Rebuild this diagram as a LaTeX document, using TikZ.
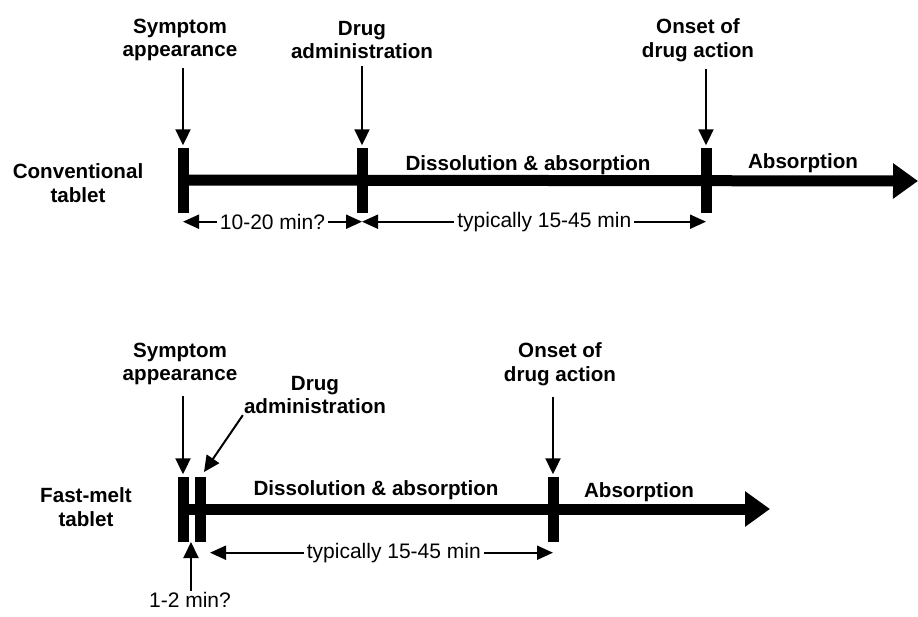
\documentclass[tikz,border=0pt]{standalone}
\usepackage{fontspec}
\setmainfont{Liberation Sans}
\usetikzlibrary{arrows.meta}

\tikzset{
  lab/.style={font=\fontsize{20.6}{23.5}\selectfont\bfseries, align=center, inner sep=1pt},
  txt/.style={font=\fontsize{21}{24}\selectfont, fill=white, inner sep=3pt},
  stage/.style={fill=black, inner sep=0pt, minimum width=11pt, minimum height=65pt},
  timeline/.style={line width=11pt, -{Triangle[length=25pt,width=34pt]}},
  pointer/.style={line width=2pt, -{Triangle[length=16pt,width=15pt]}, shorten <=6pt, shorten >=2pt},
  dimline/.style={line width=2pt, {Triangle[length=16pt,width=14pt]}-{Triangle[length=16pt,width=14pt]}},
}

\begin{document}
\begin{tikzpicture}[x=1pt, y=-1pt]
  \useasboundingbox (0, 0) rectangle (918, 616);
  % conventional tablet
  \node[lab] (conv) at (78, 183) {Conventional\\tablet};
  \node[stage] (sA) at (183, 180) {};
  \node[stage] (dA) at (362, 180) {};
  \node[stage] (oA) at (706, 180) {};
  \coordinate (eA) at (918, 181);
  \draw[timeline] (sA.center) -- (eA);
  \node[lab] (symA) at (180, 40) {Symptom\\appearance};
  \node[lab] (admA) at (362, 40) {Drug\\administration};
  \node[lab] (onsA) at (698, 40) {Onset of\\drug action};
  \node[lab, anchor=base] (disA) at (528, 170) {Dissolution \& absorption};
  \node[lab, anchor=base] (absA) at (803, 168) {Absorption};
  \draw[pointer] (symA.south -| sA) -- (sA.north);
  \draw[pointer] (admA.south -| dA) -- (dA.north);
  \draw[pointer] (onsA.south -| oA) -- (oA.north);
  \draw[dimline] ([yshift=-9pt]sA.south) -- node[txt] {10-20 min?} ([yshift=-9pt]dA.south);
  \draw[dimline] ([yshift=-9pt]dA.south) -- node[txt, pos=.53] {typically 15-45 min} ([yshift=-9pt]oA.south);
  % fast-melt tablet
  \begin{scope}[yshift=-329pt]
    \node[lab] (fast) at (86, 178) {Fast-melt\\tablet};
    \node[stage] (sB) at (183, 180) {};
    \node[stage] (dB) at (200, 180) {};
    \node[stage] (oB) at (553, 180) {};
    \coordinate (eB) at (770, 180);
    \draw[timeline] (sB.center) -- (eB);
    \node[lab] (symB) at (180, 35) {Symptom\\appearance};
    \node[lab] (admB) at (315, 66) {Drug\\administration};
    \node[lab] (onsB) at (560, 35) {Onset of\\drug action};
    \node[lab, anchor=base] (disB) at (376, 166) {Dissolution \& absorption};
    \node[lab, anchor=base] (absB) at (639, 168) {Absorption};
    \node[font=\fontsize{21}{24}\selectfont, inner sep=1pt] (lagB) at (190, 271) {1-2 min?};
    \coordinate (adB) at (204, 143);
    \coordinate (lgB) at (191, 213);
    \draw[pointer, shorten <=10pt] (symB.south -| sB) -- (sB.north);
    \draw[pointer, shorten <=0pt, shorten >=0pt] (admB.south west) -- (adB);
    \draw[pointer, shorten <=10pt] (onsB.south -| oB) -- (oB.north);
    \draw[pointer, shorten <=0pt, shorten >=0pt] (lagB.north -| lgB) -- (lgB);
    \draw[dimline] ([xshift=10pt, yshift=-11pt]dB.south) -- node[txt, pos=.536] {typically 15-45 min} ([yshift=-11pt]oB.south);
  \end{scope}
\end{tikzpicture}
\end{document}
